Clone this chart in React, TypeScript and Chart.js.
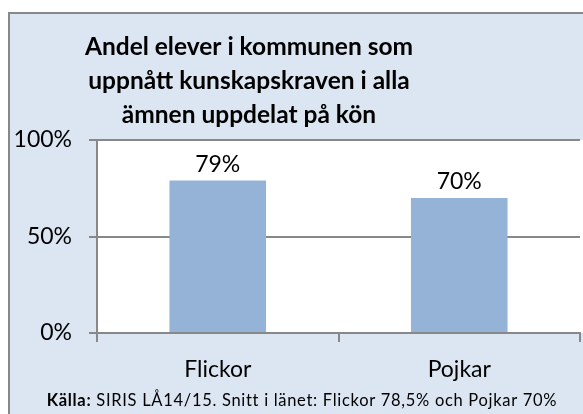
import React, { useEffect, useRef } from 'react';
import { Chart, registerables } from 'chart.js';

Chart.register(...registerables);

const categories = ['Flickor', 'Pojkar'];
const values = [79, 70];
const yTickValues = [0, 50, 100];
const titleLines = ['Andel elever i kommunen som', 'uppnått kunskapskraven i alla', 'ämnen uppdelat på kön'];
const footerBold = 'Källa:';
const footerText = ' SIRIS LÅ14/15. Snitt i länet: Flickor 78,5% och Pojkar 70%';

const FONT = 'Lato, "Open Sans", sans-serif';
const GRAY = '#888888';

const framePlugin = {
  id: 'frame',
  beforeDraw(chart: any) {
    const { ctx, chartArea, width, height } = chart;
    ctx.save();
    ctx.fillStyle = '#dce6f2';
    ctx.fillRect(8, 12, width - 8, height - 12);
    ctx.strokeStyle = GRAY;
    ctx.lineWidth = 2;
    ctx.beginPath();
    ctx.moveTo(9, height);
    ctx.lineTo(9, 13);
    ctx.lineTo(width, 13);
    ctx.stroke();
    ctx.fillStyle = '#ffffff';
    ctx.fillRect(chartArea.left, chartArea.top, width - chartArea.left, chartArea.bottom - chartArea.top);
    ctx.restore();
  },
  afterDraw(chart: any) {
    const { ctx } = chart;
    ctx.save();
    // title
    ctx.fillStyle = '#000';
    ctx.textAlign = 'center';
    ctx.textBaseline = 'alphabetic';
    ctx.font = `bold 24.5px ${FONT}`;
    titleLines.forEach((line, i) => {
      ctx.fillText(line, 249, 55 + i * 34);
    });
    // data labels
    ctx.font = `23px ${FONT}`;
    const meta = chart.getDatasetMeta(0);
    meta.data.forEach((bar: any, i: number) => {
      ctx.fillText(values[i] + '%', bar.x, bar.y - 9);
    });
    // footer
    ctx.textAlign = 'left';
    const fs = 16.5;
    const target = 510;
    const nChars = (footerBold + footerText).length;
    ctx.font = `bold ${fs}px ${FONT}`;
    let wb = ctx.measureText(footerBold).width;
    ctx.font = `${fs}px ${FONT}`;
    let wt = ctx.measureText(footerText).width;
    const extra = (target - wb - wt) / nChars;
    if ('letterSpacing' in ctx) {
      (ctx as any).letterSpacing = extra + 'px';
      ctx.font = `bold ${fs}px ${FONT}`;
      wb = ctx.measureText(footerBold).width;
      ctx.font = `${fs}px ${FONT}`;
      wt = ctx.measureText(footerText).width;
    }
    const x0 = 302 - (wb + wt) / 2;
    ctx.font = `bold ${fs}px ${FONT}`;
    ctx.fillText(footerBold, x0, 406);
    ctx.font = `${fs}px ${FONT}`;
    ctx.fillText(footerText, x0 + wb, 406);
    ctx.restore();
  },
};

export default function App() {
  const canvasRef = useRef<HTMLCanvasElement | null>(null);

  useEffect(() => {
    if (!canvasRef.current) return;
    const chart = new Chart(canvasRef.current, {
      type: 'bar',
      data: {
        labels: categories,
        datasets: [
          {
            data: values,
            backgroundColor: '#95b3d7',
            borderWidth: 0,
            barPercentage: 0.4,
            categoryPercentage: 1,
          },
        ],
      },
      options: {
        animation: false,
        responsive: true,
        maintainAspectRatio: false,
        devicePixelRatio: 1,
        layout: { padding: { top: 140, right: 3, left: 0, bottom: 0 } },
        plugins: {
          legend: { display: false },
          tooltip: { enabled: false },
          title: { display: false },
        },
        scales: {
          x: {
            grid: {
              display: true,
              drawOnChartArea: false,
              drawTicks: true,
              tickLength: 9,
              color: GRAY,
              lineWidth: 2,
            },
            border: { display: true, color: GRAY, width: 2 },
            ticks: {
              font: { family: FONT, size: 23 },
              color: '#000',
              padding: 14,
            },
            afterFit: (s: any) => {
              s.height = 81;
            },
          },
          y: {
            min: 0,
            max: 100,
            afterBuildTicks: (s: any) => {
              s.ticks = yTickValues.map((v) => ({ value: v }));
            },
            ticks: {
              callback: (v: any) => v + '%',
              font: { family: FONT, size: 23 },
              color: '#000',
              padding: 17,
            },
            grid: { color: GRAY, lineWidth: 2, tickLength: 8 },
            border: { display: true, color: GRAY, width: 2 },
            afterFit: (s: any) => {
              s.width = 97;
            },
          },
        },
      },
      plugins: [framePlugin],
    });
    return () => chart.destroy();
  }, []);

  return (
    <div style={{ position: 'absolute', left: 0, top: 0, width: 583, height: 414 }}>
      <canvas ref={canvasRef} />
    </div>
  );
}
